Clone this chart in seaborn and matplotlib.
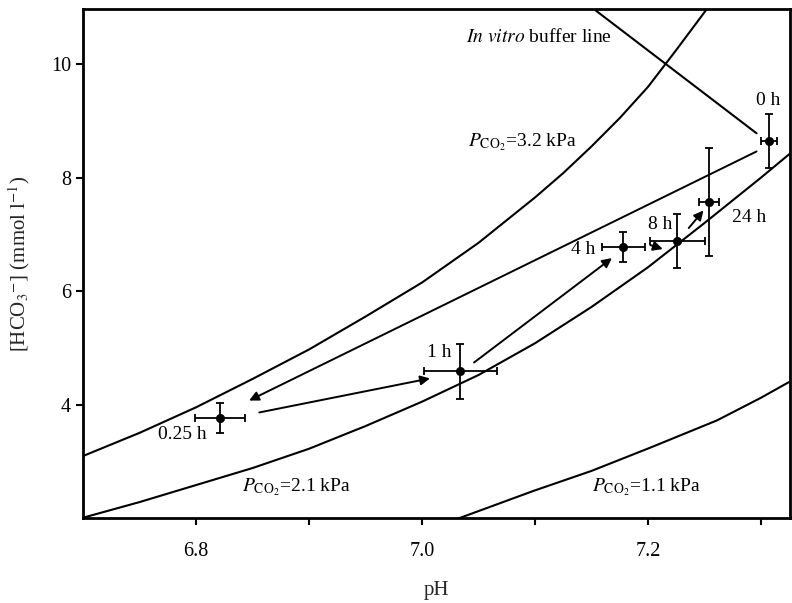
import matplotlib
matplotlib.use("Agg")
import matplotlib.pyplot as plt
import pandas as pd
import seaborn as sns

# isopleths (pH, [HCO3-])
pco2_32_ph = [6.701, 6.75, 6.80, 6.85, 6.90, 6.95, 7.00, 7.05, 7.10, 7.125, 7.15, 7.175, 7.20, 7.225, 7.252]
pco2_32_hco3 = [3.10, 3.50, 3.95, 4.45, 4.97, 5.55, 6.15, 6.85, 7.65, 8.08, 8.55, 9.05, 9.60, 10.25, 10.97]
pco2_21_ph = [6.701, 6.75, 6.80, 6.85, 6.90, 6.95, 7.00, 7.05, 7.10, 7.15, 7.20, 7.25, 7.30, 7.326]
pco2_21_hco3 = [2.01, 2.28, 2.58, 2.88, 3.22, 3.62, 4.05, 4.52, 5.08, 5.72, 6.42, 7.20, 8.00, 8.43]
pco2_11_ph = [7.032, 7.099, 7.15, 7.202, 7.261, 7.30, 7.326]
pco2_11_hco3 = [1.99, 2.48, 2.83, 3.24, 3.72, 4.12, 4.41]
buffer_ph = [7.152, 7.296]
buffer_hco3 = [10.97, 8.78]

# time course means and errors
times = ["0 h", "0.25 h", "1 h", "4 h", "8 h", "24 h"]
mean_ph = [7.307, 6.821, 7.034, 7.178, 7.226, 7.254]
mean_hco3 = [8.64, 3.77, 4.59, 6.78, 6.88, 7.57]
err_ph = [0.007, 0.022, 0.032, 0.019, 0.024, 0.009]
err_hco3 = [0.48, 0.265, 0.485, 0.265, 0.476, 0.953]

# arrows (start -> end)
arrow_start_ph = [7.296, 6.856, 7.046, 7.202, 7.236]
arrow_start_hco3 = [8.46, 3.86, 4.74, 6.81, 7.11]
arrow_end_ph = [6.847, 7.007, 7.168, 7.213, 7.249]
arrow_end_hco3 = [4.07, 4.46, 6.58, 6.74, 7.42]

sns.set_style("ticks")
plt.rcParams["font.family"] = ["Liberation Serif", "DejaVu Serif"]
plt.rcParams["mathtext.fontset"] = "stix"

fig = plt.figure(figsize=(7.92, 6.03), dpi=100)
ax = fig.add_axes([0.1048, 0.141, 0.8927, 0.844])

iso = pd.concat([
    pd.DataFrame({"pH": pco2_32_ph, "HCO3": pco2_32_hco3, "curve": "3.2"}),
    pd.DataFrame({"pH": pco2_21_ph, "HCO3": pco2_21_hco3, "curve": "2.1"}),
    pd.DataFrame({"pH": pco2_11_ph, "HCO3": pco2_11_hco3, "curve": "1.1"}),
    pd.DataFrame({"pH": buffer_ph, "HCO3": buffer_hco3, "curve": "buffer"}),
])
sns.lineplot(data=iso, x="pH", y="HCO3", units="curve", estimator=None, sort=False,
             color="black", linewidth=1.5, ax=ax)

for x0, y0, x1, y1 in zip(arrow_start_ph, arrow_start_hco3, arrow_end_ph, arrow_end_hco3):
    ax.annotate("", xy=(x1, y1), xytext=(x0, y0),
                arrowprops=dict(arrowstyle="-|>", color="black", lw=1.4,
                                mutation_scale=14, shrinkA=0, shrinkB=0))

ax.errorbar(mean_ph, mean_hco3, xerr=err_ph, yerr=err_hco3, fmt="none",
            ecolor="black", elinewidth=1.3, capsize=3, capthick=1.3)
sns.scatterplot(x=mean_ph, y=mean_hco3, color="black", s=36, edgecolor="black", ax=ax, zorder=5)

lbl = dict(fontsize=14, color="black")
ax.text(7.306, 9.36, "0 h", ha="center", va="center", **lbl)
ax.text(7.289, 7.30, "24 h", ha="center", va="center", **lbl)
ax.text(7.211, 7.17, "8 h", ha="center", va="center", **lbl)
ax.text(7.143, 6.74, "4 h", ha="center", va="center", **lbl)
ax.text(7.015, 4.92, "1 h", ha="center", va="center", **lbl)
ax.text(6.788, 3.47, "0.25 h", ha="center", va="center", **lbl)
ax.text(7.168, 10.48, r"$\it{In\ vitro}$ buffer line", ha="right", va="center", **lbl)
ax.text(7.089, 8.62, r"$P_{\mathrm{CO_2}}$=3.2 kPa", ha="center", va="center", **lbl)
ax.text(6.889, 2.54, r"$P_{\mathrm{CO_2}}$=2.1 kPa", ha="center", va="center", **lbl)
ax.text(7.198, 2.54, r"$P_{\mathrm{CO_2}}$=1.1 kPa", ha="center", va="center", **lbl)

ax.set_xlim(6.70, 7.3256)
ax.set_ylim(2.0, 10.97)
ax.set_xticks([6.8, 6.9, 7.0, 7.1, 7.2, 7.3])
ax.set_xticklabels(["6.8", "", "7.0", "", "7.2", ""])
ax.set_yticks([4, 6, 8, 10])
ax.tick_params(direction="out", length=5, width=1.5, labelsize=14.5, colors="black")
ax.tick_params(axis="x", pad=12)
for sp in ax.spines.values():
    sp.set_visible(True)
    sp.set_linewidth(2)
    sp.set_color("black")

ax.set_xlabel("pH", fontsize=15, labelpad=15)
ax.set_ylabel(r"[HCO$_3$$^{-}$] (mmol l$^{-1}$)", fontsize=15, labelpad=14)

fig.savefig("out.png", dpi=100)
